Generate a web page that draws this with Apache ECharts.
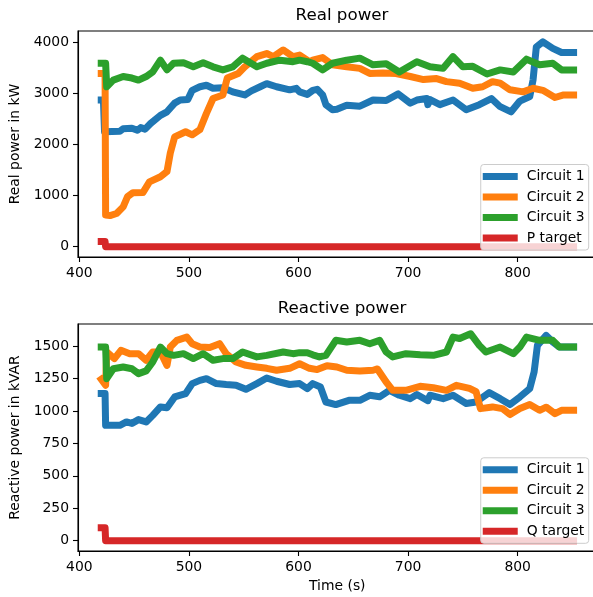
<!DOCTYPE html>
<html>
<head>
<meta charset="utf-8">
<script src="https://cdn.jsdelivr.net/npm/echarts@6/dist/echarts.min.js"></script>
<style>
  html, body { margin: 0; padding: 0; background: #fff; }
  #main { width: 593px; height: 597px; }
</style>
</head>
<body>
<div id="main"></div>
<script>
// [time (s), value]
var realC1 = [[420,2870],[422,2870],[423,2250],[437,2260],[440,2310],[448,2320],[453,2280],[456,2330],[460,2300],[465,2410],[474,2570],[480,2640],[487,2810],[492,2870],[499,2880],[503,3060],[510,3130],[516,3160],[522,3100],[531,3110],[540,3030],[551,2970],[557,3050],[565,3130],[571,3190],[580,3130],[592,3070],[598,3100],[601,3030],[608,2980],[613,3060],[617,3080],[622,2970],[625,2780],[631,2680],[635,2690],[644,2770],[656,2750],[668,2870],[680,2860],[691,2990],[702,2810],[708,2870],[717,2900],[718,2780],[720,2880],[729,2780],[741,2870],[753,2680],[765,2780],[776,2900],[784,2740],[794,2640],[802,2850],[811,2940],[814,3260],[817,3910],[823,4010],[832,3880],[840,3800],[851,3800]];
var realC2 = [[420,3390],[423.5,3390],[424,620],[428,610],[434,650],[440,780],[444,980],[449,1057],[458,1060],[464,1270],[474,1370],[480,1470],[483,1830],[487,2150],[497,2250],[503,2190],[510,2290],[516,2610],[522,2900],[531,2970],[535,3300],[545,3390],[551,3520],[562,3720],[571,3780],[577,3720],[586,3850],[595,3720],[601,3750],[610,3620],[613,3650],[622,3700],[631,3560],[644,3520],[656,3490],[665,3390],[677,3400],[689,3390],[702,3330],[714,3270],[726,3290],[735,3230],[747,3200],[759,3100],[768,3130],[777,3230],[784,3200],[793,3070],[805,3030],[814,3100],[823,3060],[834,2920],[842,2970],[851,2970]];
var realC3 = [[420,3590],[424,3590],[425,3130],[431,3260],[440,3330],[448,3300],[454,3260],[461,3330],[467,3420],[474,3650],[480,3460],[486,3590],[495,3600],[504,3520],[513,3600],[522,3520],[531,3460],[540,3520],[549,3690],[562,3520],[571,3590],[583,3650],[595,3620],[601,3650],[608,3620],[613,3590],[622,3460],[631,3590],[644,3650],[656,3690],[668,3560],[680,3580],[692,3420],[708,3620],[720,3520],[732,3490],[741,3720],[750,3520],[759,3530],[772,3380],[784,3460],[796,3420],[808,3670],[820,3560],[832,3590],[840,3460],[851,3460]];
var pTarget = [[420,100],[423.5,100],[424,0],[851,0]];

var reactC1 = [[420,1135],[423.5,1135],[424,890],[437,890],[443,916],[448,905],[454,934],[461,916],[467,967],[474,1032],[480,1025],[487,1109],[497,1135],[503,1212],[510,1237],[516,1250],[525,1212],[534,1205],[543,1200],[552,1168],[562,1212],[571,1255],[580,1230],[592,1205],[601,1212],[608,1173],[613,1212],[620,1186],[625,1070],[634,1050],[646,1083],[656,1083],[665,1122],[674,1110],[683,1160],[692,1122],[702,1096],[708,1128],[718,1080],[720,1122],[732,1096],[741,1122],[753,1058],[762,1070],[774,1142],[784,1096],[793,1050],[802,1109],[811,1173],[815,1302],[818,1507],[826,1584],[832,1533],[838,1494],[851,1494]];
var reactC2 = [[420,1245],[424,1199],[425,1456],[432,1405],[438,1469],[446,1443],[454,1443],[461,1392],[467,1456],[474,1456],[480,1353],[483,1494],[489,1546],[498,1571],[503,1520],[510,1494],[519,1490],[528,1520],[534,1443],[543,1379],[552,1353],[562,1340],[571,1330],[580,1315],[592,1330],[601,1365],[610,1330],[617,1320],[626,1350],[635,1340],[644,1315],[656,1310],[668,1315],[672,1325],[680,1224],[686,1160],[698,1160],[711,1191],[723,1180],[735,1160],[744,1199],[756,1175],[762,1150],[766,1019],[777,1032],[786,1019],[793,973],[802,1019],[811,1050],[820,1006],[826,1030],[834,980],[840,1006],[851,1006]];
var reactC3 = [[420,1494],[424,1494],[425,1250],[431,1327],[440,1340],[448,1327],[454,1289],[461,1310],[467,1379],[474,1494],[480,1443],[486,1430],[495,1443],[504,1405],[513,1443],[522,1392],[531,1405],[540,1405],[549,1456],[562,1418],[571,1430],[586,1456],[595,1443],[601,1451],[608,1450],[613,1434],[619,1418],[625,1430],[634,1546],[644,1533],[656,1546],[665,1520],[674,1546],[680,1456],[686,1418],[698,1443],[711,1434],[723,1430],[735,1456],[741,1571],[747,1560],[757,1597],[765,1507],[771,1456],[784,1494],[796,1443],[802,1494],[808,1571],[820,1546],[832,1546],[838,1494],[851,1494]];
var qTarget = [[420,100],[423.5,100],[424,0],[851,0]];

var timeTicks = [400, 500, 600, 700, 800];
var realTicks = [0, 1000, 2000, 3000, 4000];
var reactTicks = [0, 250, 500, 750, 1000, 1250, 1500];

var colors = ['#1f77b4', '#ff7f0e', '#2ca02c', '#d62728'];
var FONT = 'DejaVu Sans';

function plain(v) { return String(v); }

function xAxisCfg(idx, withName) {
  var a = {
    type: 'value', gridIndex: idx, min: 398.8, max: 872,
    axisLine: { show: true, onZero: false, lineStyle: { color: '#000', width: 1.1 } },
    axisTick: { show: true, length: 5, lineStyle: { color: '#000', width: 1.1 }, customValues: timeTicks },
    axisLabel: { color: '#000', fontSize: 13.9, fontFamily: FONT, margin: 9, customValues: timeTicks, formatter: plain },
    splitLine: { show: false }
  };
  if (withName) {
    a.name = 'Time (s)';
    a.nameLocation = 'middle';
    a.nameGap = 28;
    a.nameTextStyle = { color: '#000', fontSize: 13.9, fontFamily: FONT };
  }
  return a;
}

function yAxisCfg(idx, min, max, ticks, name) {
  return {
    type: 'value', gridIndex: idx, min: min, max: max,
    name: name, nameLocation: 'middle', nameGap: 52,
    nameTextStyle: { color: '#000', fontSize: 13.9, fontFamily: FONT },
    axisLine: { show: true, onZero: false, lineStyle: { color: '#000', width: 1.1 } },
    axisTick: { show: true, length: 5, lineStyle: { color: '#000', width: 1.1 }, customValues: ticks },
    axisLabel: { color: '#000', fontSize: 13.9, fontFamily: FONT, margin: 9, customValues: ticks, formatter: plain },
    splitLine: { show: false }
  };
}

function lineSeries(name, data, color, idx) {
  return {
    name: name, type: 'line', data: data,
    xAxisIndex: idx, yAxisIndex: idx,
    showSymbol: false, symbol: 'none',
    color: color,
    lineStyle: { width: 7, color: color, cap: 'square', join: 'round' },
    emphasis: { disabled: true }
  };
}

function legendCfg(names, bottom) {
  return {
    data: names, orient: 'vertical', right: 4.3, bottom: bottom,
    icon: 'rect', itemWidth: 35, itemHeight: 7, itemGap: 4.5,
    padding: [4, 4, 4, 2],
    backgroundColor: 'rgba(255,255,255,0.8)',
    borderColor: '#cccccc', borderWidth: 1, borderRadius: 3,
    selectedMode: false,
    textStyle: { color: '#000', fontSize: 13.9, fontFamily: FONT, lineHeight: 16, padding: [0, 0, 0, 4] }
  };
}

var myChart = echarts.init(document.getElementById('main'));

var option = {
  animation: false,
  backgroundColor: '#fff',
  title: [
    { text: 'Real power', left: 337, top: 2, textAlign: 'center',
      textStyle: { fontSize: 16.7, fontWeight: 'normal', color: '#000', fontFamily: FONT } },
    { text: 'Reactive power', left: 337, top: 295, textAlign: 'center',
      textStyle: { fontSize: 16.7, fontWeight: 'normal', color: '#000', fontFamily: FONT } }
  ],
  grid: [
    { left: 78, width: 518.6, top: 31, height: 226, show: true, borderColor: '#000', borderWidth: 1.1, outerBoundsMode: 'none' },
    { left: 78, width: 518.6, top: 324, height: 227, show: true, borderColor: '#000', borderWidth: 1.1, outerBoundsMode: 'none' }
  ],
  xAxis: [xAxisCfg(0, false), xAxisCfg(1, true)],
  yAxis: [
    yAxisCfg(0, -201, 4221, realTicks, 'Real power in kW'),
    yAxisCfg(1, -80, 1672, reactTicks, 'Reactive power in kVAR')
  ],
  legend: [
    legendCfg(['Circuit 1', 'Circuit 2', 'Circuit 3', 'P target'], 347),
    legendCfg(['Circuit 1', 'Circuit 2', 'Circuit 3', 'Q target'], 53.7)
  ],
  series: [
    lineSeries('Circuit 1', realC1, colors[0], 0),
    lineSeries('Circuit 2', realC2, colors[1], 0),
    lineSeries('Circuit 3', realC3, colors[2], 0),
    lineSeries('P target', pTarget, colors[3], 0),
    lineSeries('Circuit 1', reactC1, colors[0], 1),
    lineSeries('Circuit 2', reactC2, colors[1], 1),
    lineSeries('Circuit 3', reactC3, colors[2], 1),
    lineSeries('Q target', qTarget, colors[3], 1)
  ]
};

myChart.setOption(option);
</script>
</body>
</html>
